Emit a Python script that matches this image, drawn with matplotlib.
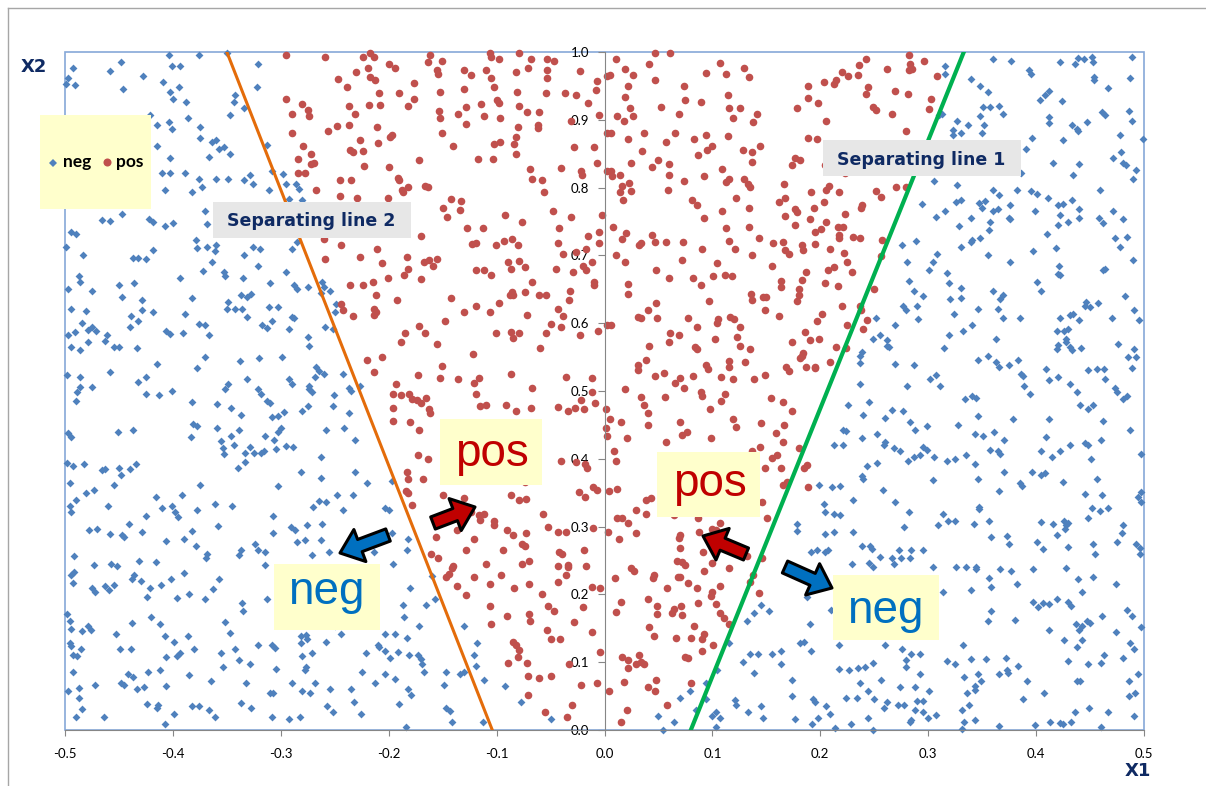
import numpy as np
import matplotlib
matplotlib.use("Agg")
import matplotlib.pyplot as plt
from matplotlib.patches import Rectangle, FancyArrowPatch
from matplotlib.lines import Line2D

# points (x1, x2)
neg_points = [
    (-0.404,0.995),(-0.376,0.995),(-0.350,0.998),(-0.448,0.985),(-0.493,0.976),
    (-0.497,0.961),(-0.499,0.953),(-0.491,0.951),(-0.458,0.972),(-0.428,0.964),
    (-0.401,0.980),(-0.393,0.980),(-0.409,0.956),(-0.446,0.945),(-0.403,0.941),
    (-0.400,0.931),(-0.394,0.948),(-0.388,0.926),(-0.342,0.936),(-0.343,0.926),
    (-0.334,0.917),(-0.322,0.948),(-0.321,0.982),(-0.347,0.907),(-0.386,0.903),
    (-0.421,0.907),(-0.404,0.897),(-0.401,0.887),(-0.415,0.892),(-0.375,0.889),
    (-0.375,0.873),(-0.364,0.867),(-0.360,0.870),(-0.357,0.857),(-0.353,0.860),
    (-0.367,0.845),(-0.347,0.850),(-0.415,0.862),(-0.403,0.843),(-0.410,0.821),
    (-0.403,0.821),(-0.389,0.822),(-0.376,0.813),(-0.360,0.813),(-0.349,0.813),
    (-0.334,0.811),(-0.329,0.818),(-0.326,0.806),(-0.311,0.796),(-0.373,0.801),
    (-0.382,0.793),(-0.407,0.796),(-0.370,0.766),(-0.368,0.747),(-0.313,0.863),
    (-0.308,0.825),(-0.298,0.820),(-0.295,0.806),(-0.286,0.806),(-0.283,0.798),
    (-0.292,0.783),(-0.280,0.781),(-0.466,0.752),(-0.458,0.751),(-0.447,0.761),
    (-0.422,0.754),(-0.418,0.749),(-0.407,0.744),(-0.400,0.748),(-0.494,0.734),
    (-0.490,0.731),(-0.499,0.712),(-0.483,0.701),(-0.437,0.696),(-0.432,0.696),
    (-0.425,0.695),(-0.418,0.708),(-0.379,0.722),(-0.378,0.711),(-0.368,0.712),
    (-0.360,0.716),(-0.361,0.707),(-0.364,0.690),(-0.372,0.677),(-0.353,0.675),
    (-0.352,0.670),(-0.326,0.712),(-0.319,0.710),(-0.334,0.700),(-0.321,0.684),
    (-0.335,0.667),(-0.295,0.675),(-0.290,0.709),(-0.285,0.720),(-0.393,0.667),
    (-0.487,0.670),(-0.486,0.661),(-0.497,0.651),(-0.475,0.648),(-0.450,0.657),
    (-0.436,0.660),(-0.447,0.639),(-0.429,0.634),(-0.494,0.621),(-0.481,0.618),
    (-0.418,0.616),(-0.439,0.610),(-0.432,0.603),(-0.429,0.619),(-0.440,0.594),
    (-0.484,0.601),(-0.479,0.590),(-0.475,0.595),(-0.471,0.589),(-0.491,0.587),
    (-0.497,0.582),(-0.461,0.582),(-0.463,0.574),(-0.479,0.572),(-0.494,0.565),
    (-0.486,0.560),(-0.455,0.565),(-0.450,0.565),(-0.433,0.563),(-0.415,0.540),
    (-0.458,0.528),(-0.432,0.514),(-0.425,0.521),(-0.378,0.534),(-0.370,0.550),
    (-0.406,0.589),(-0.403,0.584),(-0.391,0.586),(-0.376,0.599),(-0.370,0.597),
    (-0.367,0.583),(-0.389,0.614),(-0.382,0.637),(-0.350,0.621),(-0.342,0.621),
    (-0.336,0.621),(-0.349,0.631),(-0.337,0.641),(-0.331,0.639),(-0.328,0.643),
    (-0.331,0.609),(-0.317,0.597),(-0.313,0.593),(-0.308,0.603),(-0.311,0.624),
    (-0.303,0.624),(-0.310,0.660),(-0.290,0.609),(-0.288,0.607),(-0.292,0.592),
    (-0.288,0.656),(-0.285,0.651),(-0.275,0.654),(-0.275,0.579),(-0.274,0.567),
    (-0.262,0.661),(-0.260,0.653),(-0.254,0.648),(-0.263,0.645),(-0.249,0.629),
    (-0.250,0.616),(-0.259,0.594),(-0.252,0.592),(-0.267,0.535),(-0.265,0.530),
    (-0.268,0.520),(-0.260,0.525),(-0.242,0.525),(-0.299,0.550),(-0.320,0.548),
    (-0.338,0.544),(-0.349,0.511),(-0.331,0.518),(-0.292,0.518),(-0.290,0.511),
    (-0.274,0.508),(-0.352,0.503),(-0.498,0.523),(-0.486,0.520),(-0.486,0.506),
    (-0.475,0.506),
    (0.316,0.979),(0.316,0.967),(0.310,0.907),(0.313,0.909),(0.340,0.960),
    (0.348,0.950),(0.355,0.941),(0.360,0.990),(0.377,0.987),(0.393,0.973),
    (0.395,0.968),(0.422,0.985),(0.436,0.982),(0.439,0.991),(0.444,0.990),
    (0.452,0.993),(0.453,0.985),(0.454,0.963),(0.454,0.959),(0.489,0.992),
    (0.487,0.962),(0.467,0.947),(0.404,0.929),(0.408,0.937),(0.412,0.942),
    (0.424,0.927),(0.351,0.919),(0.357,0.919),(0.366,0.921),(0.369,0.909),
    (0.348,0.906),(0.327,0.898),(0.337,0.893),(0.352,0.893),(0.323,0.885),
    (0.323,0.878),(0.330,0.880),(0.350,0.881),(0.412,0.904),(0.412,0.896),
    (0.433,0.892),(0.438,0.887),(0.439,0.883),(0.447,0.897),(0.461,0.912),
    (0.464,0.907),(0.486,0.913),(0.489,0.898),(0.396,0.873),(0.425,0.870),
    (0.391,0.857),(0.478,0.878),(0.499,0.872),(0.479,0.852),(0.471,0.843),
    (0.481,0.837),(0.483,0.833),(0.493,0.826),(0.490,0.813),(0.416,0.837),
    (0.440,0.835),(0.434,0.818),(0.386,0.822),(0.459,0.797),(0.395,0.795),
    (0.401,0.790),(0.411,0.784),(0.382,0.797),(0.360,0.797),(0.366,0.789),
    (0.327,0.804),(0.305,0.809),(0.294,0.776),(0.326,0.779),(0.330,0.781),
    (0.347,0.778),(0.350,0.770),(0.353,0.780),(0.360,0.765),(0.365,0.769),
    (0.376,0.775),(0.316,0.765),(0.307,0.756),(0.340,0.755),(0.329,0.744),
    (0.357,0.750),(0.356,0.738),(0.375,0.755),(0.376,0.753),(0.399,0.765),
    (0.420,0.775),(0.425,0.776),(0.433,0.781),(0.422,0.759),(0.420,0.745),
    (0.430,0.749),(0.440,0.768),(0.440,0.755),(0.458,0.755),(0.462,0.748),
    (0.471,0.766),(0.481,0.753),(0.410,0.731),(0.418,0.711),(0.397,0.706),
    (0.473,0.725),(0.484,0.727),(0.478,0.712),(0.490,0.693),(0.421,0.684),
    (0.420,0.673),(0.422,0.671),(0.462,0.678),(0.464,0.680),(0.376,0.690),
    (0.355,0.701),(0.340,0.720),(0.341,0.723),(0.348,0.725),(0.330,0.712),
    (0.317,0.674),(0.319,0.660),(0.308,0.702),(0.304,0.690),(0.301,0.679),
    (0.289,0.721),(0.276,0.716),(0.280,0.690),(0.282,0.662),(0.287,0.647),
    (0.295,0.640),(0.330,0.652),(0.320,0.635),(0.330,0.637),(0.360,0.647),
    (0.369,0.642),(0.367,0.635),(0.401,0.661),(0.405,0.648),(0.482,0.640),
    (0.446,0.631),(0.457,0.630),(0.450,0.624),(0.445,0.626),(0.422,0.607),
    (0.431,0.612),(0.434,0.614),(0.440,0.604),(0.430,0.592),(0.426,0.589),
    (0.419,0.588),(0.428,0.577),(0.428,0.572),(0.420,0.568),(0.419,0.562),
    (0.431,0.565),(0.433,0.561),(0.442,0.563),(0.470,0.607),(0.476,0.570),
    (0.491,0.620),(0.495,0.604),(0.491,0.562),(0.485,0.550),(0.493,0.550),
    (0.489,0.534),(0.385,0.608),(0.369,0.607),(0.365,0.621),(0.346,0.621),
    (0.341,0.597),(0.332,0.588),(0.319,0.583),(0.324,0.614),(0.363,0.576),
    (0.346,0.545),(0.355,0.552),(0.363,0.543),(0.366,0.535),(0.375,0.539),
    (0.383,0.546),(0.386,0.525),(0.388,0.522),(0.389,0.508),(0.409,0.533),
    (0.420,0.520),(0.412,0.516),(0.431,0.511),(0.448,0.531),(0.456,0.532),
    (0.463,0.532),(0.464,0.517),(0.473,0.504),(0.315,0.563),(0.302,0.518),
    (0.307,0.523),(0.311,0.507),(0.287,0.538),(0.280,0.508),(0.269,0.540),
    (0.262,0.575),(0.264,0.565),(0.262,0.567),(0.249,0.576),(0.255,0.582),
    (0.239,0.557),(0.237,0.552),(0.237,0.542),(0.237,0.511),(0.252,0.608),
    (0.269,0.597),(0.277,0.625),(0.279,0.619),(0.290,0.626),(0.291,0.606),
    (-0.489,0.498),(-0.490,0.485),(-0.425,0.495),(-0.413,0.494),(-0.401,0.500),
    (-0.382,0.484),(-0.359,0.481),(-0.346,0.475),(-0.337,0.464),(-0.321,0.503),
    (-0.318,0.495),(-0.313,0.485),(-0.310,0.483),(-0.274,0.503),(-0.271,0.499),
    (-0.275,0.478),(-0.280,0.470),(-0.251,0.494),(-0.252,0.478),(-0.237,0.505),
    (-0.235,0.500),(-0.237,0.468),(-0.258,0.442),(-0.241,0.446),(-0.231,0.427),
    (-0.227,0.507),(-0.308,0.462),(-0.303,0.463),(-0.297,0.469),(-0.300,0.446),
    (-0.303,0.440),(-0.306,0.427),(-0.295,0.419),(-0.289,0.418),(-0.304,0.414),
    (-0.315,0.434),(-0.318,0.409),(-0.316,0.411),(-0.329,0.418),(-0.325,0.409),
    (-0.333,0.409),(-0.333,0.396),(-0.340,0.386),(-0.343,0.421),(-0.346,0.433),
    (-0.339,0.442),(-0.354,0.416),(-0.353,0.407),(-0.355,0.426),(-0.359,0.446),
    (-0.381,0.451),(-0.378,0.448),(-0.383,0.432),(-0.451,0.440),(-0.437,0.442),
    (-0.497,0.438),(-0.494,0.432),(-0.498,0.394),(-0.493,0.390),(-0.482,0.392),
    (-0.466,0.384),(-0.463,0.385),(-0.450,0.387),(-0.448,0.376),(-0.440,0.385),
    (-0.434,0.392),(-0.495,0.365),(-0.455,0.362),(-0.473,0.354),(-0.481,0.349),
    (-0.490,0.339),(-0.495,0.331),(-0.494,0.322),(-0.460,0.331),(-0.416,0.344),
    (-0.410,0.328),(-0.401,0.331),(-0.398,0.322),(-0.395,0.314),(-0.392,0.346),
    (-0.378,0.324),(-0.375,0.362),(-0.361,0.333),(-0.345,0.330),(-0.358,0.301),
    (-0.382,0.293),(-0.390,0.281),(-0.379,0.272),(-0.406,0.279),(-0.425,0.315),
    (-0.441,0.304),(-0.429,0.292),(-0.447,0.287),(-0.445,0.285),(-0.458,0.289),
    (-0.478,0.295),(-0.470,0.297),(-0.492,0.256),(-0.473,0.243),(-0.457,0.245),
    (-0.452,0.242),(-0.431,0.250),(-0.416,0.248),(-0.390,0.232),(-0.402,0.223),
    (-0.411,0.214),(-0.436,0.229),(-0.438,0.222),(-0.430,0.220),(-0.421,0.210),
    (-0.492,0.233),(-0.494,0.228),(-0.493,0.217),(-0.475,0.210),(-0.472,0.203),
    (-0.463,0.213),(-0.459,0.207),(-0.455,0.214),(-0.424,0.196),(-0.396,0.195),
    (-0.385,0.201),(-0.370,0.193),(-0.363,0.208),(-0.357,0.223),(-0.369,0.253),
    (-0.368,0.260),(-0.498,0.171),(-0.495,0.161),(-0.494,0.149),(-0.484,0.146),
    (-0.479,0.153),(-0.476,0.148),(-0.453,0.141),(-0.438,0.158),(-0.420,0.166),
    (-0.412,0.156),(-0.407,0.139),(-0.399,0.130),(-0.386,0.138),(-0.495,0.129),
    (-0.494,0.124),(-0.485,0.119),(-0.493,0.110),(-0.489,0.109),(-0.493,0.086),
    (-0.449,0.119),(-0.439,0.120),(-0.423,0.086),(-0.412,0.089),(-0.406,0.107),
    (-0.396,0.109),(-0.393,0.113),(-0.380,0.120),(-0.385,0.081),(-0.355,0.114),
    (-0.342,0.120),(-0.339,0.103),(-0.329,0.097),(-0.321,0.126),(-0.308,0.126),
    (-0.305,0.121),(-0.304,0.090),(-0.310,0.054),(-0.307,0.055),(-0.354,0.093),
    (-0.365,0.073),(-0.332,0.070),(-0.497,0.058),(-0.487,0.062),(-0.472,0.066),
    (-0.448,0.070),(-0.445,0.066),(-0.442,0.083),(-0.437,0.078),(-0.433,0.061),
    (-0.427,0.063),(-0.406,0.065),(-0.487,0.047),(-0.484,0.031),(-0.490,0.019),
    (-0.464,0.019),(-0.424,0.039),(-0.415,0.032),(-0.414,0.037),(-0.407,0.009),
    (-0.399,0.024),(-0.382,0.035),(-0.376,0.036),(-0.367,0.030),(-0.361,0.019),
    (-0.337,0.040),(-0.328,0.032),(-0.308,0.019),(-0.292,0.016),(-0.282,0.019),
    (-0.290,0.070),(-0.280,0.058),(-0.273,0.054),(-0.268,0.070),(-0.277,0.093),
    (-0.278,0.088),(-0.280,0.109),(-0.271,0.113),(-0.281,0.129),(-0.281,0.138),
    (-0.277,0.140),(-0.276,0.134),(-0.258,0.130),(-0.254,0.061),(-0.257,0.035),
    (-0.252,0.027),(-0.235,0.060),(-0.232,0.042),(-0.226,0.024),(-0.225,0.085),
    (-0.221,0.114),(-0.213,0.070),(-0.210,0.126),(-0.209,0.123),(-0.203,0.142),
    (-0.203,0.083),(-0.203,0.116),(-0.199,0.106),(-0.191,0.115),(-0.194,0.141),
    (-0.194,0.075),(-0.190,0.039),(-0.184,0.005),(-0.182,0.060),(-0.179,0.051),
    (-0.183,0.135),(-0.181,0.110),(-0.173,0.110),(-0.170,0.104),(-0.169,0.098),
    (-0.167,0.085),(-0.172,0.153),(-0.186,0.166),(-0.187,0.184),(-0.180,0.210),
    (-0.165,0.184),(-0.157,0.193),(-0.196,0.245),(-0.197,0.291),(-0.183,0.265),
    (-0.182,0.281),(-0.160,0.227),(-0.147,0.086),(-0.149,0.067),(-0.147,0.032),
    (-0.143,0.028),(-0.141,0.012),(-0.134,0.083),(-0.130,0.085),(-0.130,0.153),
    (-0.118,0.128),(-0.121,0.110),(-0.119,0.094),(-0.112,0.074),(-0.113,0.012),
    (-0.092,0.065),(-0.077,0.042),(-0.050,0.016),(-0.231,0.380),(-0.220,0.365),
    (-0.197,0.367),(-0.203,0.327),(-0.200,0.324),(-0.233,0.346),(-0.248,0.347),
    (-0.258,0.336),(-0.263,0.372),(-0.281,0.380),(-0.270,0.329),(-0.265,0.338),
    (-0.242,0.324),(-0.263,0.403),(-0.303,0.360),(-0.307,0.316),(-0.307,0.291),
    (-0.291,0.300),(-0.287,0.295),(-0.276,0.303),(-0.262,0.304),(-0.285,0.278),
    (-0.278,0.280),(-0.263,0.280),(-0.255,0.262),(-0.234,0.262),(-0.214,0.262),
    (-0.271,0.258),(-0.315,0.262),(-0.315,0.244),(-0.324,0.274),(-0.321,0.265),
    (-0.337,0.265),(-0.339,0.258),(-0.313,0.193),(-0.336,0.188),(-0.335,0.175),
    (-0.352,0.160),(-0.347,0.143),(-0.250,0.154),(-0.244,0.141),
    (0.226,0.480),(0.245,0.484),(0.240,0.464),(0.266,0.472),(0.277,0.470),
    (0.260,0.460),(0.283,0.455),(0.288,0.443),(0.299,0.448),(0.253,0.436),
    (0.260,0.425),(0.259,0.421),(0.268,0.416),(0.274,0.412),(0.239,0.431),
    (0.221,0.442),(0.224,0.441),(0.213,0.420),(0.221,0.420),(0.281,0.397),
    (0.287,0.403),(0.292,0.406),(0.295,0.418),(0.299,0.413),(0.305,0.403),
    (0.317,0.397),(0.325,0.400),(0.335,0.405),(0.328,0.450),(0.334,0.488),
    (0.341,0.493),(0.344,0.490),(0.343,0.437),(0.351,0.433),(0.346,0.463),
    (0.361,0.440),(0.370,0.428),(0.357,0.413),(0.365,0.412),(0.367,0.407),
    (0.343,0.392),(0.346,0.370),(0.370,0.380),(0.379,0.459),(0.394,0.495),
    (0.412,0.459),(0.409,0.432),(0.405,0.412),(0.415,0.403),(0.422,0.412),
    (0.431,0.421),(0.438,0.498),(0.441,0.480),(0.448,0.474),(0.453,0.480),
    (0.445,0.423),(0.448,0.421),(0.451,0.399),(0.460,0.428),(0.462,0.456),
    (0.475,0.498),(0.481,0.488),(0.484,0.493),(0.487,0.442),(0.497,0.407),
    (0.396,0.380),(0.405,0.376),(0.408,0.379),(0.425,0.366),(0.385,0.364),
    (0.387,0.360),(0.456,0.370),(0.445,0.348),(0.461,0.346),(0.452,0.328),
    (0.459,0.323),(0.467,0.327),(0.494,0.344),(0.497,0.351),(0.497,0.337),
    (0.448,0.312),(0.405,0.307),(0.416,0.304),(0.426,0.308),(0.430,0.306),
    (0.419,0.287),(0.427,0.297),(0.428,0.302),(0.401,0.278),(0.406,0.267),
    (0.430,0.270),(0.453,0.274),(0.455,0.260),(0.475,0.278),(0.480,0.291),
    (0.481,0.302),(0.493,0.275),(0.496,0.268),(0.496,0.260),(0.366,0.352),
    (0.347,0.326),(0.347,0.329),(0.356,0.308),(0.373,0.286),(0.375,0.275),
    (0.358,0.285),(0.342,0.304),(0.367,0.238),(0.377,0.234),(0.382,0.216),
    (0.397,0.237),(0.428,0.239),(0.439,0.222),(0.453,0.225),(0.443,0.203),
    (0.474,0.215),(0.397,0.189),(0.402,0.181),(0.406,0.188),(0.412,0.186),
    (0.419,0.193),(0.430,0.189),(0.432,0.183),(0.380,0.162),(0.412,0.148),
    (0.426,0.133),(0.437,0.157),(0.440,0.148),(0.443,0.153),(0.447,0.161),
    (0.450,0.158),(0.443,0.133),(0.438,0.123),(0.461,0.168),(0.474,0.145),
    (0.484,0.177),(0.489,0.168),(0.497,0.152),(0.487,0.128),(0.491,0.120),
    (0.481,0.106),(0.494,0.082),(0.486,0.073),(0.492,0.055),(0.486,0.050),
    (0.491,0.020),(0.463,0.111),(0.460,0.099),(0.448,0.097),(0.430,0.102),
    (0.438,0.072),(0.441,0.073),(0.449,0.032),(0.460,0.005),(0.467,0.026),
    (0.436,0.026),(0.432,0.012),(0.422,0.010),(0.425,0.009),(0.413,0.012),
    (0.399,0.007),(0.407,0.054),(0.392,0.072),(0.388,0.045),(0.383,0.094),
    (0.372,0.106),(0.366,0.082),(0.373,0.088),(0.374,0.084),(0.354,0.105),
    (0.349,0.072),(0.343,0.065),(0.343,0.059),(0.336,0.055),(0.338,0.037),
    (0.331,0.030),(0.333,0.012),(0.331,0.001),(0.343,0.015),(0.346,0.082),
    (0.333,0.078),(0.332,0.126),(0.325,0.098),(0.317,0.102),(0.340,0.105),
    (0.366,0.006),(0.307,0.022),(0.300,0.018),(0.295,0.027),(0.288,0.030),
    (0.295,0.043),(0.290,0.043),(0.301,0.058),(0.288,0.064),(0.292,0.083),
    (0.284,0.112),(0.279,0.103),(0.279,0.093),(0.292,0.112),(0.276,0.120),
    (0.274,0.063),(0.272,0.037),(0.278,0.037),(0.284,0.015),(0.283,0.012),
    (0.259,0.032),(0.262,0.042),(0.250,0.045),(0.244,0.018),(0.249,0.000),
    (0.228,0.009),(0.214,0.003),(0.209,0.024),(0.198,0.018),(0.192,0.009),
    (0.177,0.016),(0.147,0.017),(0.133,0.027),(0.145,0.036),(0.121,0.044),
    (0.122,0.037),(0.103,0.027),(0.107,0.017),(0.100,0.020),(0.103,0.005),
    (0.094,0.046),(0.085,0.029),(0.070,0.047),(0.064,0.012),(0.050,0.020),
    (0.054,0.000),(0.079,0.057),(0.094,0.069),(0.104,0.088),(0.128,0.100),
    (0.135,0.112),(0.142,0.112),(0.139,0.084),(0.155,0.112),(0.164,0.097),
    (0.164,0.117),(0.174,0.074),(0.191,0.117),(0.181,0.128),(0.185,0.130),
    (0.174,0.050),(0.193,0.045),(0.195,0.041),(0.205,0.036),(0.224,0.047),
    (0.234,0.047),(0.237,0.069),(0.244,0.058),(0.227,0.088),(0.217,0.090),
    (0.235,0.091),(0.241,0.093),(0.249,0.099),(0.256,0.074),(0.190,0.157),
    (0.188,0.196),(0.217,0.126),(0.210,0.177),(0.229,0.245),(0.239,0.272),
    (0.246,0.272),(0.248,0.267),(0.245,0.247),(0.249,0.240),(0.255,0.255),
    (0.266,0.253),(0.268,0.245),(0.275,0.253),(0.283,0.253),(0.273,0.265),
    (0.284,0.265),(0.295,0.265),(0.304,0.240),(0.326,0.240),(0.335,0.240),
    (0.344,0.238),(0.344,0.240),(0.314,0.204),(0.340,0.206),(0.356,0.224),
    (0.358,0.211),(0.355,0.161),(0.358,0.176),(0.278,0.300),(0.309,0.302),
    (0.318,0.308),(0.325,0.308),(0.314,0.319),(0.178,0.304),(0.178,0.293),
    (0.204,0.289),(0.213,0.292),(0.230,0.292),(0.203,0.334),(0.204,0.322),
    (0.213,0.319),(0.218,0.317),(0.230,0.339),(0.199,0.362),(0.211,0.359),
    (0.218,0.360),(0.240,0.370),(0.239,0.374),(0.243,0.389),(0.253,0.394),
    (0.258,0.354),(0.269,0.336),(0.282,0.321),(0.304,0.369),(0.191,0.263),
    (0.197,0.266),(0.204,0.262),(0.207,0.266),(0.145,0.184),(0.139,0.172),
    (0.152,0.176),(0.132,0.161),(0.115,0.128),(0.260,0.126),
]

pos_points = [
    (-0.295,0.996),(-0.259,0.992),(-0.224,0.992),(-0.217,0.998),(-0.214,0.993),
    (-0.162,0.995),(-0.106,0.998),(-0.105,0.992),(-0.098,0.990),(-0.079,0.998),
    (-0.068,0.989),(-0.053,0.989),(-0.047,0.986),(-0.200,0.983),(-0.194,0.977),
    (-0.164,0.985),(-0.151,0.986),(-0.219,0.977),(-0.230,0.970),(-0.247,0.960),
    (-0.217,0.963),(-0.213,0.958),(-0.155,0.973),(-0.154,0.968),(-0.130,0.973),
    (-0.124,0.966),(-0.110,0.973),(-0.105,0.961),(-0.082,0.971),(-0.071,0.976),
    (-0.053,0.973),(-0.053,0.962),(-0.023,0.972),(-0.007,0.957),(-0.008,0.944),
    (0.005,0.966),(-0.239,0.948),(-0.209,0.940),(-0.190,0.939),(-0.177,0.955),
    (-0.177,0.931),(-0.152,0.941),(-0.130,0.946),(-0.102,0.948),(-0.100,0.929),
    (-0.098,0.925),(-0.081,0.941),(-0.054,0.940),(-0.037,0.939),(-0.026,0.936),
    (-0.295,0.930),(-0.280,0.924),(-0.275,0.914),(-0.274,0.905),(-0.290,0.908),
    (-0.237,0.921),(-0.231,0.908),(-0.218,0.922),(-0.208,0.922),(-0.182,0.921),
    (-0.153,0.913),(-0.152,0.902),(-0.136,0.909),(-0.128,0.919),(-0.128,0.894),
    (-0.114,0.924),(-0.112,0.906),(-0.097,0.903),(-0.079,0.921),(-0.072,0.912),
    (-0.061,0.912),(-0.062,0.893),(-0.062,0.888),(-0.080,0.889),(-0.082,0.875),
    (-0.015,0.925),(-0.005,0.907),(-0.031,0.898),(0.006,0.880),(-0.290,0.880),
    (-0.256,0.883),(-0.248,0.891),(-0.237,0.892),(-0.211,0.889),(-0.199,0.875),
    (-0.197,0.877),(-0.227,0.870),(-0.210,0.866),(-0.151,0.880),(-0.140,0.861),
    (-0.102,0.864),(-0.097,0.867),(-0.084,0.865),(-0.082,0.850),(-0.028,0.860),
    (-0.010,0.860),(-0.007,0.837),(0.006,0.824),(-0.022,0.824),(-0.021,0.819),
    (-0.040,0.829),(-0.117,0.842),(-0.103,0.842),(-0.172,0.840),(-0.223,0.832),
    (-0.200,0.830),(-0.236,0.855),(-0.233,0.853),(-0.224,0.854),(-0.279,0.861),
    (-0.272,0.850),(-0.272,0.835),(-0.269,0.837),(-0.284,0.842),(-0.284,0.821),
    (-0.278,0.821),(-0.245,0.811),(-0.235,0.811),(-0.267,0.796),(-0.245,0.788),
    (-0.229,0.784),(-0.201,0.784),(-0.191,0.814),(-0.190,0.811),(-0.188,0.796),
    (-0.187,0.793),(-0.182,0.801),(-0.166,0.802),(-0.164,0.801),(-0.142,0.783),
    (-0.133,0.780),(-0.150,0.770),(-0.146,0.757),(-0.134,0.767),(-0.069,0.827),
    (-0.067,0.812),(-0.058,0.811),(-0.056,0.794),(-0.048,0.766),(-0.031,0.757),
    (-0.002,0.760),(-0.092,0.759),(-0.076,0.749),(-0.127,0.740),(-0.113,0.740),
    (-0.042,0.740),(-0.015,0.729),(-0.005,0.735),(-0.170,0.728),(-0.123,0.717),
    (-0.119,0.719),(-0.101,0.715),(-0.093,0.721),(-0.086,0.724),(-0.080,0.715),
    (-0.043,0.718),(-0.038,0.702),(-0.026,0.705),(-0.017,0.709),(-0.005,0.719),
    (-0.260,0.724),(-0.244,0.715),(-0.259,0.694),(-0.227,0.697),(-0.211,0.709),
    (-0.206,0.689),(-0.183,0.698),(-0.182,0.680),(-0.167,0.691),(-0.163,0.693),
    (-0.155,0.694),(-0.159,0.684),(-0.186,0.671),(-0.201,0.666),(-0.170,0.665),
    (-0.119,0.679),(-0.112,0.678),(-0.105,0.671),(-0.089,0.691),(-0.087,0.680),
    (-0.079,0.692),(-0.074,0.683),(-0.067,0.661),(-0.045,0.680),(-0.029,0.675),
    (-0.020,0.684),(-0.017,0.679),(-0.012,0.690),(-0.010,0.661),(-0.010,0.657),
    (-0.236,0.656),(-0.224,0.657),(-0.215,0.661),(-0.212,0.642),(-0.192,0.634),
    (-0.214,0.621),(-0.212,0.617),(-0.214,0.612),(-0.244,0.629),(-0.242,0.619),
    (-0.233,0.611),(-0.142,0.637),(-0.130,0.616),(-0.119,0.625),(-0.106,0.616),
    (-0.098,0.630),(-0.088,0.642),(-0.086,0.646),(-0.085,0.641),(-0.074,0.646),
    (-0.072,0.612),(-0.061,0.641),(-0.054,0.641),(-0.043,0.621),(-0.038,0.611),
    (-0.032,0.647),(-0.033,0.634),(-0.050,0.599),(-0.040,0.594),(-0.148,0.603),
    (-0.172,0.596),(-0.166,0.586),(-0.185,0.586),(-0.189,0.572),(-0.155,0.570),
    (-0.101,0.586),(-0.087,0.587),(-0.085,0.578),(-0.079,0.586),(-0.054,0.586),
    (-0.023,0.582),(-0.006,0.588),(0.006,0.598),(-0.122,0.555),(-0.060,0.564),
    (-0.220,0.545),(-0.206,0.550),(-0.214,0.528),(-0.151,0.537),(-0.193,0.511),
    (-0.173,0.524),(-0.152,0.519),(-0.136,0.518),(-0.121,0.512),(-0.116,0.519),
    (-0.087,0.525),(-0.067,0.504),(-0.036,0.520),(-0.012,0.519),
    (0.011,0.990),(0.047,0.998),(0.061,0.998),(0.041,0.983),(0.019,0.975),
    (0.026,0.966),(0.002,0.965),(0.047,0.958),(0.022,0.950),(0.019,0.934),
    (0.024,0.917),(0.012,0.906),(0.018,0.898),(0.026,0.905),(0.052,0.919),
    (0.074,0.950),(0.075,0.929),(0.069,0.908),(0.089,0.926),(0.094,0.969),
    (0.107,0.984),(0.113,0.967),(0.129,0.976),(0.134,0.963),(0.114,0.936),
    (0.115,0.917),(0.119,0.903),(0.126,0.917),(0.138,0.897),(0.141,0.908),
    (0.178,0.918),(0.189,0.950),(0.189,0.932),(0.198,0.925),(0.203,0.956),
    (0.213,0.953),(0.215,0.958),(0.220,0.970),(0.226,0.964),(0.235,0.966),
    (0.236,0.981),(0.242,0.989),(0.244,0.949),(0.242,0.938),(0.249,0.919),
    (0.252,0.915),(0.262,0.975),(0.269,0.942),(0.281,0.938),(0.266,0.908),
    (0.282,0.995),(0.283,0.983),(0.282,0.973),(0.285,0.975),(0.296,0.987),
    (0.308,0.964),(0.303,0.930),(0.301,0.916),(0.279,0.883),(0.205,0.898),
    (0.189,0.873),(0.197,0.872),(0.144,0.862),(0.128,0.856),(0.137,0.852),
    (0.137,0.838),(0.114,0.876),(0.094,0.878),(0.100,0.861),(0.095,0.856),
    (0.087,0.848),(0.083,0.872),(0.065,0.881),(0.057,0.867),(0.060,0.835),
    (0.050,0.841),(0.044,0.830),(0.035,0.854),(0.037,0.880),(0.022,0.871),
    (0.025,0.836),(0.002,0.880),(0.002,0.824),(0.007,0.817),(0.014,0.818),
    (0.016,0.802),(0.023,0.807),(0.025,0.795),(0.014,0.794),(0.017,0.782),
    (0.060,0.818),(0.074,0.810),(0.059,0.796),(0.092,0.817),(0.081,0.781),
    (0.086,0.775),(0.109,0.827),(0.115,0.813),(0.113,0.808),(0.129,0.812),
    (0.133,0.805),(0.135,0.801),(0.122,0.784),(0.109,0.765),(0.092,0.755),
    (0.134,0.770),(0.174,0.833),(0.177,0.843),(0.181,0.840),(0.166,0.805),
    (0.162,0.779),(0.167,0.785),(0.177,0.769),(0.178,0.764),(0.167,0.758),
    (0.191,0.794),(0.203,0.779),(0.194,0.770),(0.205,0.797),(0.208,0.803),
    (0.217,0.794),(0.204,0.833),(0.252,0.795),(0.256,0.786),(0.239,0.774),
    (0.238,0.770),(0.223,0.761),(0.270,0.801),(0.279,0.801),(0.223,0.821),
    (0.190,0.753),(0.205,0.749),(0.177,0.745),(0.195,0.734),(0.201,0.739),
    (0.216,0.742),(0.221,0.742),(0.217,0.730),(0.217,0.726),(0.230,0.727),
    (0.237,0.725),(0.257,0.723),(0.256,0.699),(0.143,0.726),(0.156,0.718),
    (0.165,0.720),(0.167,0.708),(0.171,0.702),(0.183,0.715),(0.184,0.708),
    (0.195,0.717),(0.209,0.710),(0.222,0.703),(0.225,0.691),(0.229,0.676),
    (0.213,0.683),(0.207,0.678),(0.204,0.660),(0.216,0.655),(0.187,0.676),
    (0.183,0.663),(0.180,0.651),(0.164,0.662),(0.164,0.653),(0.155,0.685),
    (0.137,0.700),(0.121,0.710),(0.115,0.721),(0.113,0.740),(0.134,0.742),
    (0.090,0.710),(0.073,0.720),(0.072,0.693),(0.057,0.720),(0.047,0.720),
    (0.044,0.730),(0.034,0.719),(0.032,0.716),(0.020,0.733),(0.016,0.724),
    (0.008,0.742),(0.011,0.701),(0.019,0.691),(0.048,0.678),(0.060,0.667),
    (0.082,0.666),(0.089,0.657),(0.104,0.689),(0.101,0.669),(0.112,0.671),
    (0.118,0.669),(0.097,0.633),(0.136,0.643),(0.137,0.634),(0.147,0.638),
    (0.150,0.638),(0.149,0.619),(0.162,0.611),(0.180,0.642),(0.178,0.633),
    (0.202,0.614),(0.197,0.603),(0.220,0.625),(0.237,0.625),(0.238,0.619),
    (0.250,0.650),(0.243,0.604),(0.225,0.598),(0.240,0.592),(0.190,0.575),
    (0.199,0.576),(0.186,0.587),(0.174,0.573),(0.183,0.552),(0.181,0.549),
    (0.184,0.556),(0.215,0.565),(0.224,0.563),(0.209,0.543),(0.195,0.536),
    (0.187,0.536),(0.195,0.534),(0.168,0.535),(0.171,0.530),(0.149,0.524),
    (0.139,0.518),(0.119,0.518),(0.108,0.520),(0.115,0.544),(0.115,0.535),
    (0.130,0.543),(0.135,0.562),(0.126,0.567),(0.123,0.580),(0.126,0.594),
    (0.116,0.609),(0.120,0.606),(0.105,0.606),(0.104,0.600),(0.086,0.594),
    (0.084,0.565),(0.086,0.562),(0.102,0.577),(0.094,0.538),(0.096,0.533),
    (0.082,0.522),(0.070,0.519),(0.065,0.512),(0.074,0.504),(0.055,0.526),
    (0.047,0.522),(0.031,0.538),(0.031,0.531),(0.038,0.546),(0.041,0.567),
    (0.061,0.586),(0.060,0.573),(0.069,0.582),(0.077,0.607),(0.049,0.607),
    (0.031,0.609),(0.034,0.608),(0.040,0.620),(0.048,0.630),(0.022,0.658),
    (0.022,0.643),(0.002,0.598),(0.019,0.503),
    (-0.196,0.495),(-0.189,0.494),(-0.181,0.496),(-0.196,0.475),(-0.196,0.456),
    (-0.178,0.488),(-0.174,0.486),(-0.170,0.483),(-0.165,0.489),(-0.163,0.474),
    (-0.162,0.468),(-0.180,0.454),(-0.172,0.442),(-0.119,0.496),(-0.115,0.478),
    (-0.110,0.480),(-0.091,0.480),(-0.082,0.470),(-0.068,0.475),(-0.043,0.476),
    (-0.034,0.470),(-0.027,0.475),(-0.019,0.473),(-0.022,0.486),(-0.012,0.498),
    (-0.009,0.483),(-0.173,0.406),(-0.164,0.400),(-0.183,0.381),(-0.182,0.370),
    (-0.168,0.370),(-0.184,0.353),(-0.182,0.350),(-0.178,0.332),(-0.156,0.285),
    (-0.161,0.259),(-0.154,0.253),(-0.147,0.225),(-0.144,0.230),(-0.141,0.239),
    (-0.140,0.242),(-0.137,0.212),(-0.128,0.199),(-0.137,0.295),(-0.121,0.282),
    (-0.124,0.321),(-0.116,0.317),(-0.112,0.319),(-0.115,0.309),(-0.102,0.308),
    (-0.102,0.302),(-0.090,0.295),(-0.085,0.287),(-0.073,0.290),(-0.076,0.275),
    (-0.074,0.272),(-0.094,0.265),(-0.070,0.250),(-0.076,0.245),(-0.106,0.215),
    (-0.084,0.209),(-0.070,0.216),(-0.106,0.183),(-0.105,0.156),(-0.070,0.171),
    (-0.069,0.161),(-0.052,0.183),(-0.047,0.176),(-0.053,0.147),(-0.050,0.134),
    (-0.041,0.134),(-0.085,0.130),(-0.082,0.126),(-0.079,0.118),(-0.080,0.107),
    (-0.089,0.099),(-0.072,0.099),(-0.071,0.080),(-0.061,0.077),(-0.050,0.080),
    (-0.033,0.097),(-0.022,0.066),(-0.071,0.052),(-0.012,0.144),(-0.004,0.115),
    (-0.020,0.182),(-0.012,0.211),(-0.004,0.209),(-0.043,0.219),(-0.036,0.228),
    (-0.034,0.241),(-0.034,0.244),(-0.043,0.242),(-0.017,0.242),(-0.042,0.262),
    (-0.039,0.260),(-0.019,0.266),(-0.043,0.292),(-0.036,0.292),(-0.011,0.298),
    (-0.024,0.351),(-0.018,0.344),(-0.011,0.359),(-0.007,0.354),(-0.040,0.397),
    (-0.026,0.396),(-0.018,0.392),(-0.016,0.386),(-0.099,0.371),(-0.087,0.346),
    (-0.079,0.339),(-0.073,0.341),(-0.074,0.366),(-0.035,0.019),
    (-0.130,0.342),(-0.141,0.318),(-0.057,0.318),(-0.052,0.300),(-0.128,0.265),
    (-0.110,0.245),(-0.096,0.228),(-0.121,0.226),(-0.058,0.201),(-0.028,0.160),
    (-0.090,0.168),(-0.030,0.037),(-0.055,0.027),(-0.007,0.069),(-0.150,0.347),
    (0.001,0.474),(0.005,0.459),(0.015,0.454),(0.001,0.446),(0.002,0.433),
    (0.021,0.430),(0.009,0.412),(0.011,0.397),(0.034,0.491),(0.037,0.479),
    (0.040,0.468),(0.040,0.450),(0.056,0.491),(0.089,0.499),(0.090,0.493),
    (0.108,0.485),(0.112,0.496),(0.098,0.473),(0.070,0.455),(0.076,0.440),
    (0.072,0.435),(0.057,0.425),(0.099,0.430),(0.119,0.458),(0.122,0.447),
    (0.145,0.453),(0.154,0.490),(0.165,0.484),(0.174,0.470),(0.166,0.450),
    (0.159,0.438),(0.165,0.425),(0.144,0.417),(0.137,0.412),(0.160,0.405),
    (0.155,0.401),(0.164,0.387),(0.180,0.416),(0.188,0.391),(0.185,0.386),
    (0.169,0.366),(0.165,0.362),(0.189,0.359),(0.149,0.387),(0.139,0.387),
    (0.146,0.337),(0.151,0.313),(0.132,0.257),(0.146,0.254),(0.138,0.229),
    (0.135,0.218),(0.143,0.202),(0.115,0.239),(0.107,0.213),(0.100,0.247),
    (0.092,0.235),(0.107,0.306),(0.100,0.297),(0.103,0.295),(0.088,0.292),
    (0.091,0.262),(0.070,0.287),(0.069,0.283),(0.070,0.268),(0.067,0.250),
    (0.072,0.248),(0.075,0.243),(0.068,0.226),(0.070,0.225),(0.077,0.217),
    (0.086,0.210),(0.058,0.210),(0.046,0.228),(0.045,0.224),(0.025,0.239),
    (0.027,0.235),(0.010,0.224),(0.015,0.189),(0.011,0.174),(0.040,0.193),
    (0.049,0.183),(0.049,0.171),(0.064,0.179),(0.063,0.173),(0.071,0.183),
    (0.072,0.169),(0.087,0.188),(0.100,0.203),(0.099,0.198),(0.103,0.186),
    (0.107,0.173),(0.111,0.165),(0.115,0.157),(0.083,0.154),(0.092,0.141),
    (0.090,0.134),(0.080,0.135),(0.066,0.135),(0.046,0.139),(0.041,0.152),
    (0.101,0.126),(0.090,0.116),(0.075,0.108),(0.077,0.106),(0.016,0.108),
    (0.022,0.103),(0.032,0.111),(0.034,0.101),(0.029,0.097),(0.022,0.092),
    (0.037,0.097),(0.004,0.057),(0.018,0.071),(0.048,0.074),(0.040,0.063),
    (0.047,0.057),(0.080,0.069),(0.058,0.037),(0.021,0.029),(0.015,0.012),
    (0.064,0.317),(0.061,0.326),(0.043,0.342),(0.038,0.339),(0.038,0.319),
    (0.029,0.324),(0.012,0.312),(0.016,0.313),(0.022,0.306),(0.029,0.291),
    (0.003,0.292),(0.013,0.282),(0.004,0.353),(0.012,0.356),(0.087,0.313),
]

sep_line1_x = [0.080, 0.333]
sep_line1_y = [0.0, 1.0]
sep_line2_x = [-0.350, -0.104]
sep_line2_y = [1.0, 0.0]

x_ticks = [-0.5, -0.4, -0.3, -0.2, -0.1, 0.0, 0.1, 0.2, 0.3, 0.4, 0.5]
y_ticks = [0.0, 0.1, 0.2, 0.3, 0.4, 0.5, 0.6, 0.7, 0.8, 0.9, 1.0]

NEG_C = "#4F81BD"
POS_C = "#C0504D"
NAVY = "#0F2A63"
GREY = "#868686"

W, H = 1206, 786
plt.rcParams["font.family"] = ["Lato", "DejaVu Sans"]

def fx(px):
    return px / W

def fy(py):
    return 1 - py / H

fig = plt.figure(figsize=(W / 100, H / 100), dpi=100)
ax = fig.add_axes([fx(65), fy(730), (1144 - 65) / W, (730 - 52) / H])

neg = np.array(neg_points)
pos = np.array(pos_points)
ax.scatter(neg[:, 0], neg[:, 1], marker="D", s=16, color=NEG_C, linewidths=0,
           zorder=2, clip_on=False)
ax.scatter(pos[:, 0], pos[:, 1], marker="o", s=30, color=POS_C, linewidths=0,
           zorder=2, clip_on=False)

ax.plot(sep_line2_x, sep_line2_y, color="#E46C0A", lw=2.2, zorder=3)
ax.plot(sep_line1_x, sep_line1_y, color="#00B050", lw=3.0, zorder=3)

ax.set_xlim(-0.5, 0.5)
ax.set_ylim(0, 1)

# plot-area frame and axes through the origin
ax.add_patch(Rectangle((0, 0), 1, 1, transform=ax.transAxes, fill=False,
                       ec="#86A8D8", lw=1.2, zorder=1, clip_on=False))
for s in ["top", "right"]:
    ax.spines[s].set_visible(False)
ax.spines["left"].set_position(("data", 0))
ax.spines["left"].set_color(GREY)
ax.spines["bottom"].set_color(GREY)

ax.set_xticks(x_ticks)
ax.set_xticklabels([f"{v:.1f}" for v in x_ticks])
ax.set_yticks(y_ticks)
ax.set_yticklabels([f"{v:.1f}" for v in y_ticks])
ax.tick_params(axis="x", direction="out", length=4, color=GREY, pad=9,
               labelsize=9.5)
ax.tick_params(axis="y", direction="out", length=5, color=GREY, pad=6,
               labelsize=9.5)

# outer chart border
fig.add_artist(Line2D([fx(8), fx(8)], [fy(8), 0], color="#A6A6A6", lw=1,
                      transform=fig.transFigure))
fig.add_artist(Line2D([fx(8), 1], [fy(8), fy(8)], color="#A6A6A6", lw=1,
                      transform=fig.transFigure))

def box(x0, y0, x1, y1, color):
    fig.add_artist(Rectangle((fx(x0), fy(y1)), (x1 - x0) / W, (y1 - y0) / H,
                             transform=fig.transFigure, fc=color, ec="none",
                             zorder=5))

# legend
box(40, 115, 151, 209, "#FFFFCC")
fig.add_artist(Line2D([fx(53)], [fy(163)], marker="D", ms=4.2, color=NEG_C,
                      mew=0, transform=fig.transFigure, zorder=6))
fig.add_artist(Line2D([fx(107)], [fy(162)], marker="o", ms=5.8, color=POS_C,
                      mew=0, transform=fig.transFigure, zorder=6))
fig.text(fx(63), fy(162), "neg", fontsize=12.5, fontweight="bold",
         va="center", ha="left", zorder=7)
fig.text(fx(116), fy(162), "pos", fontsize=12.5, fontweight="bold",
         va="center", ha="left", zorder=7)

# separating line labels
box(213, 202, 411, 238, "#E7E7E7")
fig.text(fx(311), fy(226.5), "Separating line 2", family="DejaVu Sans",
         fontsize=12.5, fontweight="bold", color=NAVY, ha="center",
         va="baseline", zorder=7)
box(823, 140, 1021, 176, "#E7E7E7")
fig.text(fx(921), fy(165), "Separating line 1", family="DejaVu Sans",
         fontsize=12.5, fontweight="bold", color=NAVY, ha="center",
         va="baseline", zorder=7)

# region labels
for (x0, y0, x1, y1), (tx, ty), txt, col in [
        ((440, 419, 542, 485), (492, 466), "pos", "#C00000"),
        ((657, 452, 760, 517), (710, 496), "pos", "#C00000"),
        ((274, 564, 380, 630), (326, 604), "neg", "#0070C0"),
        ((833, 575, 939, 640), (885, 623), "neg", "#0070C0")]:
    box(x0, y0, x1, y1, "#FFFFCC")
    fig.text(fx(tx), fy(ty), txt, family="Liberation Sans", fontsize=33,
             color=col, ha="center", va="baseline", zorder=7)

# block arrows
for (ax0, ay0), (ax1, ay1), col in [
        ((433, 523), (475, 507), "#C00000"),
        ((388, 535), (340, 553), "#0070C0"),
        ((746, 554), (703, 536), "#C00000"),
        ((785, 567), (832, 588), "#0070C0")]:
    fig.add_artist(FancyArrowPatch(
        (fx(ax0), fy(ay0)), (fx(ax1), fy(ay1)), transform=fig.transFigure,
        arrowstyle="simple,head_length=0.9,head_width=1.45,tail_width=0.55",
        mutation_scale=17, fc=col, ec="black", lw=2.2, shrinkA=0, shrinkB=0,
        zorder=6))

fig.text(fx(34), fy(67), "X2", family="DejaVu Sans", fontsize=13,
         fontweight="bold", color=NAVY, ha="center", va="center")
fig.text(fx(1138), fy(771), "X1", family="DejaVu Sans", fontsize=13,
         fontweight="bold", color=NAVY, ha="center", va="center")

fig.savefig("out.png", dpi=100)
